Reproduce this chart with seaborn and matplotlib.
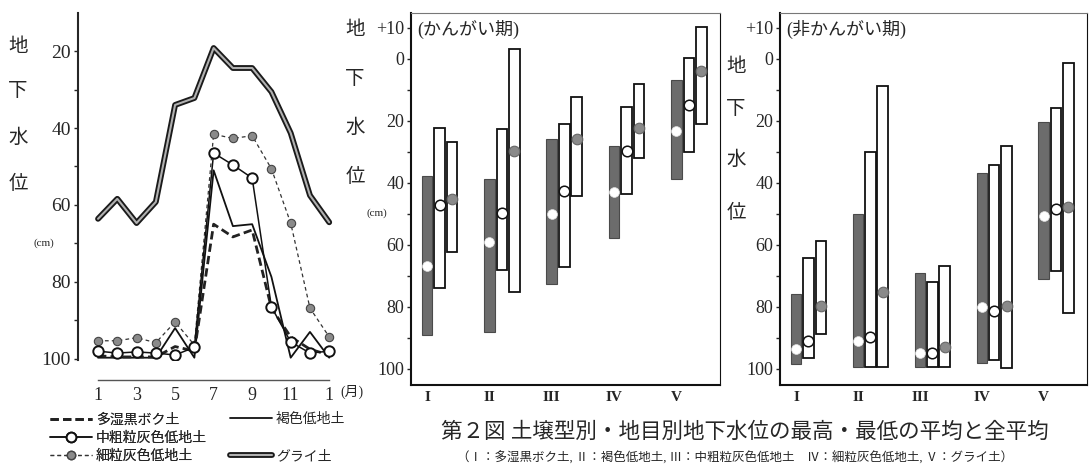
import numpy as np
import pandas as pd
import matplotlib
matplotlib.use("Agg")
import matplotlib.pyplot as plt
import seaborn as sns
from matplotlib.lines import Line2D

sns.set_style("white")
plt.rcParams["font.family"] = ["Liberation Serif", "Noto Sans CJK JP", "DejaVu Sans"]

# ---------------- data: monthly groundwater level (cm below surface) ----------------
month_labels = ["1", "2", "3", "4", "5", "6", "7", "8", "9", "10", "11", "12", "1"]
humic_andosol = [99.2, 99.5, 99.5, 99.5, 96.8, 98.0, 65.0, 68.3, 66.5, 86.8, 94.3, 97.5, 99.0]   # 多湿黒ボク土
medium_gray = [98.0, 98.5, 98.2, 98.5, 99.0, 97.0, 46.5, 49.6, 53.0, 86.5, 95.6, 98.5, 98.0]     # 中粗粒灰色低地土
fine_gray = [95.3, 95.3, 94.5, 95.8, 90.4, 96.4, 41.6, 42.7, 42.0, 50.6, 64.7, 86.8, 94.3]       # 細粒灰色低地土
brown_lowland = [99.7, 99.7, 99.7, 99.7, 92.0, 99.7, 51.0, 65.5, 65.0, 78.7, 99.7, 93.0, 99.7]   # 褐色低地土
gley = [63.6, 58.4, 64.7, 59.2, 34.0, 32.2, 19.2, 24.4, 24.4, 30.6, 41.3, 57.5, 64.5]            # グライ土

# ---------------- data: range bars per soil type (I..V) ----------------
soil_types = ["I", "II", "III", "IV", "V"]
# irrigation period (かんがい期); three land-use bars per soil type
irr_high_a = [37.7, 38.8, 25.9, 28.0, 6.8]
irr_low_a = [89.0, 88.0, 72.6, 57.8, 38.7]
irr_mean_a = [66.8, 59.0, 50.0, 43.0, 23.2]
irr_high_b = [22.3, 22.6, 21.0, 15.4, -0.3]
irr_low_b = [73.9, 68.0, 67.0, 43.6, 30.0]
irr_mean_b = [47.0, 49.6, 42.5, 29.6, 14.8]
irr_high_c = [26.7, -3.2, 12.2, 8.2, -10.4]
irr_low_c = [62.3, 75.2, 44.2, 32.0, 21.0]
irr_mean_c = [45.2, 29.6, 26.0, 22.4, 4.0]
# non-irrigation period (非かんがい期)
non_high_a = [75.8, 50.0, 69.0, 36.8, 20.3]
non_low_a = [98.4, 99.4, 99.4, 98.0, 71.0]
non_mean_a = [93.5, 91.0, 94.8, 80.0, 50.6]
non_high_b = [64.2, 30.0, 71.9, 34.2, 15.8]
non_low_b = [96.5, 99.4, 99.4, 97.1, 68.4]
non_mean_b = [91.0, 89.7, 94.8, 81.3, 48.4]
non_high_c = [58.7, 8.7, 66.8, 28.0, 1.3]
non_low_c = [88.7, 99.4, 99.4, 99.7, 81.9]
non_mean_c = [79.7, 75.2, 92.9, 79.7, 47.7]

W, H = 1089, 467
fig = plt.figure(figsize=(W / 100, H / 100), dpi=100)


def fx(px):
    return px / W


def fy(py):
    return 1 - py / H


# ================= left panel: monthly lines =================
ax1 = fig.add_axes([fx(78), fy(360), fx(335 - 78), (360 - 13) / H])
idx = np.arange(len(month_labels))

sns.lineplot(x=idx, y=gley, ax=ax1, color="#1a1a1a", lw=4.2, sort=False)
sns.lineplot(x=idx, y=gley, ax=ax1, color="#b0b0b0", lw=1.5, sort=False)
sns.lineplot(x=idx, y=brown_lowland, ax=ax1, color="#111111", lw=1.3, sort=False)
sns.lineplot(x=idx, y=humic_andosol, ax=ax1, color="#222222", lw=2.0,
             linestyle=(0, (3, 1.5)), sort=False)
sns.lineplot(x=idx, y=fine_gray, ax=ax1, color="#333333", lw=0.9,
             linestyle=(0, (3, 2.5)), marker="o", markersize=6,
             markerfacecolor="#8a8a8a", markeredgecolor="#444444", markeredgewidth=0.8,
             sort=False)
sns.lineplot(x=idx, y=medium_gray, ax=ax1, color="#111111", lw=1.1,
             marker="o", markersize=7.5, markerfacecolor="white",
             markeredgecolor="#111111", markeredgewidth=1.4, sort=False)

ax1.set_xlim(-1.04, 12.3)
ax1.set_ylim(100.3, 10.1)
for s in ["top", "right"]:
    ax1.spines[s].set_visible(False)
ax1.spines["left"].set_linewidth(1.5)
ax1.spines["bottom"].set_position(("outward", 14.4))
ax1.spines["bottom"].set_bounds(0, 12)
ax1.spines["bottom"].set_linewidth(1.0)
ax1.spines["bottom"].set_color("#555555")
ax1.set_xticks(idx)
ax1.set_xticklabels([m if i % 2 == 0 else "" for i, m in enumerate(month_labels)], fontsize=13)
ax1.tick_params(axis="x", direction="inout", length=6, width=1, color="#555555", pad=2)
ax1.set_yticks([20, 40, 60, 80, 100])
ax1.set_yticks([30, 50, 70, 90], minor=True)
ax1.set_yticklabels(["20", "40", "60", "80", "100"], fontsize=14)
ax1.tick_params(axis="y", which="both", direction="out", length=3, width=1, pad=2, left=True)
ax1.set_xlabel("")
ax1.set_ylabel("")

fig.text(fx(352), fy(392), "(月)", fontsize=10, ha="center", va="center")
for ch, y in zip("地下水位", [47, 92, 138, 184]):
    fig.text(fx(18), fy(y), ch, fontsize=14, ha="center", va="center")
fig.text(fx(44), fy(243), "(cm)", fontsize=8, ha="center", va="center")

# legend
h_humic = Line2D([], [], color="#222222", lw=2.0, linestyle=(0, (3, 1.5)))
h_mid = Line2D([], [], color="#111111", lw=1.1, marker="o", markersize=7,
               markerfacecolor="white", markeredgecolor="#111111", markeredgewidth=1.4)
h_fine = Line2D([], [], color="#333333", lw=0.9, linestyle=(0, (3, 2.5)), marker="o",
                markersize=6, markerfacecolor="#8a8a8a", markeredgecolor="#444444")
h_brown = Line2D([], [], color="#111111", lw=1.3)
h_gley_a = Line2D([], [], color="#1a1a1a", lw=4.2)
h_gley_b = Line2D([], [], color="#b0b0b0", lw=1.5)

leg1 = fig.legend([h_humic, h_mid, h_fine], ["多湿黒ボク土", "中粗粒灰色低地土", "細粒灰色低地土"],
                  loc="center left", bbox_to_anchor=(fx(50), fy(438)), frameon=False,
                  fontsize=10, handlelength=3.0, labelspacing=0.35, handletextpad=0.3,
                  borderaxespad=0, borderpad=0)
leg2 = fig.legend([h_brown, (h_gley_a, h_gley_b)], ["褐色低地土", "グライ土"],
                  loc="center left", bbox_to_anchor=(fx(230), fy(438)), frameon=False,
                  fontsize=10, handlelength=3.0, labelspacing=1.75, handletextpad=0.3,
                  borderaxespad=0, borderpad=0)
fig.add_artist(leg1)


# ================= bar panels =================
def bar_panel(ax, highs, lows, means, title):
    pos = np.arange(len(soil_types))
    offsets = [0.0, 0.2, 0.4]
    width = 0.17
    faces = ["#6c6c6c", "white", "white"]
    edges = ["#4a4a4a", "#111111", "#111111"]
    for k in range(3):
        hi = np.array(highs[k])
        lo = np.array(lows[k])
        ax.bar(pos + offsets[k], lo - hi, bottom=hi, width=width,
               color=faces[k], edgecolor=edges[k], linewidth=1.3 if k else 0.8,
               zorder=2)
    rows = []
    for k in range(3):
        for i, s in enumerate(soil_types):
            rows.append({"x": pos[i] + offsets[k], "y": means[k][i], "bar": k})
    df = pd.DataFrame(rows)
    sns.scatterplot(data=df[df.bar == 0], x="x", y="y", ax=ax, s=50, color="white",
                    edgecolor="#dddddd", linewidth=0.5, zorder=3)
    sns.scatterplot(data=df[df.bar == 1], x="x", y="y", ax=ax, s=58, color="white",
                    edgecolor="#111111", linewidth=1.1, zorder=3)
    sns.scatterplot(data=df[df.bar == 2], x="x", y="y", ax=ax, s=58, color="#8a8a8a",
                    edgecolor="#666666", linewidth=0.8, zorder=3)
    ax.set_xlim(-0.26, 4.7)
    ax.set_ylim(105.2, -14.8)
    ax.set_yticks([-10, 0, 20, 40, 60, 80, 100])
    ax.set_yticklabels(["+10", "0", "20", "40", "60", "80", "100"], fontsize=13)
    ax.set_yticks([10, 30, 50, 70, 90], minor=True)
    ax.tick_params(axis="y", which="both", direction="out", length=3, width=1, pad=2, left=True)
    ax.set_xticks(pos)
    ax.set_xticklabels(soil_types, fontsize=11, fontweight="bold")
    ax.tick_params(axis="x", length=0, pad=4)
    for s in ax.spines.values():
        s.set_visible(True)
        s.set_color("#111111")
    ax.spines["left"].set_linewidth(1.5)
    ax.spines["bottom"].set_linewidth(1.5)
    ax.spines["top"].set_linewidth(0.8)
    ax.spines["right"].set_linewidth(0.8)
    ax.spines["top"].set_color("#777777")
    ax.set_xlabel("")
    ax.set_ylabel("")
    ax.text(0.02, 0.955, title, transform=ax.transAxes, fontsize=13,
            ha="left", va="center")


ax2 = fig.add_axes([fx(411), fy(385), fx(720 - 411), (385 - 13) / H])
bar_panel(ax2, [irr_high_a, irr_high_b, irr_high_c], [irr_low_a, irr_low_b, irr_low_c],
          [irr_mean_a, irr_mean_b, irr_mean_c], "(かんがい期)")
ax3 = fig.add_axes([fx(780), fy(385), fx(1087 - 780), (385 - 13) / H])
bar_panel(ax3, [non_high_a, non_high_b, non_high_c], [non_low_a, non_low_b, non_low_c],
          [non_mean_a, non_mean_b, non_mean_c], "(非かんがい期)")

for ch, y in zip("地下水位", [30, 80, 128, 177]):
    fig.text(fx(355), fy(y), ch, fontsize=14, ha="center", va="center")
fig.text(fx(377), fy(213), "(cm)", fontsize=8, ha="center", va="center")
for ch, y in zip("地下水位", [67, 110, 160, 213]):
    fig.text(fx(736), fy(y), ch, fontsize=14, ha="center", va="center")

# captions
fig.text(fx(745), fy(433), "第２図 土壌型別・地目別地下水位の最高・最低の平均と全平均",
         fontsize=15.5, ha="center", va="center")
fig.text(fx(735), fy(458),
         "（Ⅰ：多湿黒ボク土, Ⅱ：褐色低地土, Ⅲ：中粗粒灰色低地土　Ⅳ：細粒灰色低地土, Ⅴ：グライ土）",
         fontsize=9, ha="center", va="center")

fig.savefig("out.png", dpi=100)
